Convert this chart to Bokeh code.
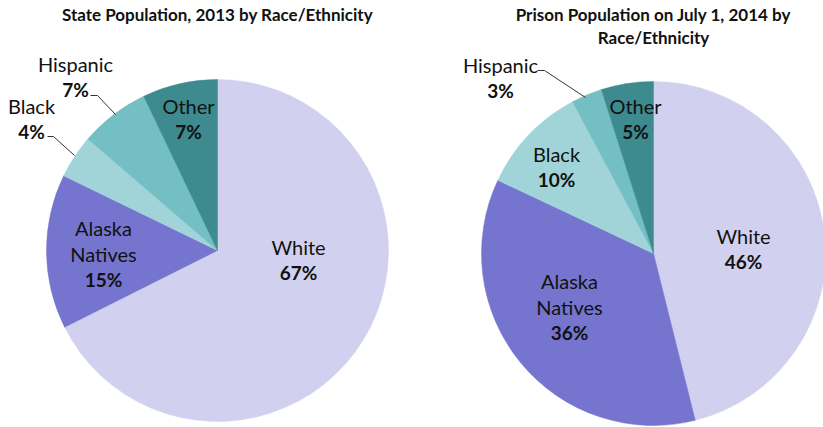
import math
from bokeh.plotting import figure
from bokeh.models import Range1d, ColumnDataSource
from bokeh.core.properties import value
from bokeh.embed import file_html
from bokeh.resources import INLINE

# ---- data ----
categories = ["White", "Alaska Natives", "Black", "Hispanic", "Other"]
state_values = [67.6, 14.6, 4.1, 6.6, 7.1]          # share of slice
state_labels = ["67%", "15%", "4%", "7%", "7%"]
prison_values = [46.1, 35.9, 10.2, 2.9, 4.9]
prison_labels = ["46%", "36%", "10%", "3%", "5%"]
colors = ["#D1D1EF", "#7575CF", "#A1D4D8", "#74BFC4", "#3D8A8F"]
titles = ["State Population, 2013 by Race/Ethnicity",
          "Prison Population on July 1, 2014 by\nRace/Ethnicity"]

# ---- layout (page pixel coordinates) ----
W, H = 823, 427
FONT = "Lato"

def Y(y):
    return H - y

p = figure(width=W, height=H, output_backend="svg", toolbar_location=None,
           x_range=Range1d(0, W), y_range=Range1d(0, H),
           min_border=0)
p.axis.visible = False
p.grid.visible = False
p.outline_line_color = None
p.background_fill_color = "white"

pies = [
    dict(cx=217, cy=250, r=171, vals=state_values, labs=state_labels,
         pos=[(298, 259), (103, 253), (31, 118), (75, 76), (188, 118)],
         leaders=[None, None, [(47, 136), (53, 136), (74, 155)], [(90, 95), (97, 95), (115, 114)], None],
         title_y=[14]),
    dict(cx=653, cy=253, r=172, vals=prison_values, labs=prison_labels,
         pos=[(743, 248), (569, 306), (556, 166), (500, 77), (635, 118)],
         leaders=[None, None, None, [(537, 70), (544, 70), (585, 97)], None],
         title_y=[14, 37]),
]

for i, pie in enumerate(pies):
    vals = pie["vals"]
    total = sum(vals)
    starts, ends = [], []
    cum = 0.0
    for v in vals:
        starts.append(math.pi / 2 - 2 * math.pi * cum / total)
        cum += v
        ends.append(math.pi / 2 - 2 * math.pi * cum / total)
    src = ColumnDataSource(dict(start=starts, end=ends, color=colors,
                                x=[pie["cx"]] * 5, y=[Y(pie["cy"])] * 5))
    p.wedge(x="x", y="y", radius=pie["r"], start_angle="start", end_angle="end",
            direction="clock", fill_color="color", line_color="color", line_width=0.5,
            source=src)

    # labels
    names, pcts, nx, ny, px, py = [], [], [], [], [], []
    for j, cat in enumerate(categories):
        x0, y0 = pie["pos"][j]
        parts = cat.split(" ")
        n = len(parts)
        for k, part in enumerate(parts):
            names.append(part)
            nx.append(x0)
            ny.append(Y(y0 - 13 * n + 26 * k))
        px.append(x0)
        py.append(Y(y0 - 13 * n + 26 * n))
        pcts.append(pie["labs"][j])
    p.text(x=nx, y=ny, text=names, text_font=value(FONT), text_font_size="20px",
           text_align="center", text_baseline="middle", text_color="#111111")
    p.text(x=px, y=py, text=pcts, text_font=value(FONT), text_font_size="19px",
           text_font_style="bold", text_align="center", text_baseline="middle",
           text_color="#111111")

    for ld in pie["leaders"]:
        if ld:
            p.line(x=[a for a, b in ld], y=[Y(b) for a, b in ld], line_color="#333333",
                   line_width=1)

    tlines = titles[i].split("\n")
    p.text(x=[pie["cx"]] * len(tlines), y=[Y(t) for t in pie["title_y"]], text=tlines,
           text_font=value(FONT), text_font_size="17px", text_font_style="bold",
           text_align="center", text_baseline="middle", text_color="#111111")

open("out.html", "w").write(file_html(p, INLINE))
